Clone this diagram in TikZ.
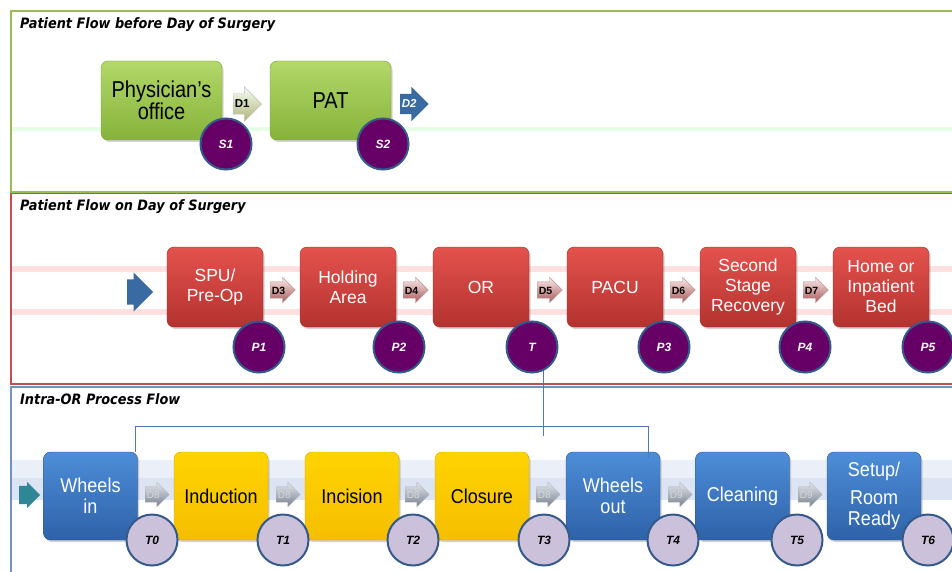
\documentclass[tikz,border=0pt]{standalone}
\usepackage{fontspec}
\setmainfont{Liberation Sans}
\newfontfamily\greenfont[FakeStretch=0.87]{Liberation Sans}
\newfontfamily\procfont[FakeStretch=0.9]{Liberation Sans}
\newfontfamily\headfont[FakeStretch=0.9]{DejaVu Sans}
\usetikzlibrary{shapes.arrows,shadows}

% palette
\definecolor{grnT}{HTML}{B2D869}
\definecolor{grnB}{HTML}{86B23A}
\definecolor{grnD}{HTML}{7CA234}
\definecolor{redT}{HTML}{E4524D}
\definecolor{redB}{HTML}{B3322F}
\definecolor{redD}{HTML}{A02E2B}
\definecolor{bluT}{HTML}{4D8DD8}
\definecolor{bluB}{HTML}{2E62A8}
\definecolor{bluD}{HTML}{2A5590}
\definecolor{yelT}{HTML}{FFD400}
\definecolor{yelB}{HTML}{F5BE00}
\definecolor{yelD}{HTML}{D9A600}
\definecolor{purp}{HTML}{660066}
\definecolor{lav}{HTML}{CCC1DA}
\definecolor{ringB}{HTML}{34598A}
\definecolor{pgreen}{HTML}{9BBB59}
\definecolor{pred}{HTML}{C0504D}
\definecolor{pblue}{HTML}{6E93C4}
\definecolor{flowblue}{HTML}{3A6AA2}
\definecolor{teal}{HTML}{2F8796}
\definecolor{linkblue}{HTML}{4A7AB8}
\definecolor{bandblue}{HTML}{DCE4F4}
\definecolor{greyT}{HTML}{E4E8EE}
\definecolor{greyB}{HTML}{75808E}

\tikzset{
  panel/.style={line width=1.6pt},
  stage/.style={rounded corners=7pt, align=center, inner sep=0pt,
    drop shadow={opacity=0.35, shadow xshift=1.5pt, shadow yshift=-2pt}},
  greenbox/.style={stage, top color=grnT, bottom color=grnB, draw=grnD,
    minimum width=121pt, minimum height=79pt,
    font=\greenfont\fontsize{23}{22}\selectfont},
  redbox/.style={stage, top color=redT, bottom color=redB, draw=redD,
    minimum width=96pt, minimum height=80pt, text=white,
    font=\fontsize{17.5}{20}\selectfont},
  procbox/.style={stage, minimum width=94pt, minimum height=88pt,
    font=\procfont\fontsize{20}{21}\selectfont},
  bluebox/.style={procbox, top color=bluT, bottom color=bluB, draw=bluD, text=white},
  yellowbox/.style={procbox, top color=yelT, bottom color=yelB, draw=yelD, text=black},
  tag/.style={circle, minimum size=51pt, inner sep=0pt, line width=2pt,
    font=\bfseries\itshape\fontsize{12}{12}\selectfont},
  stag/.style={tag, fill=purp, draw=ringB, text=white},
  ttag/.style={tag, fill=lav, draw=ringB, text=black},
  arr/.style={single arrow, anchor=west, inner ysep=0pt, inner xsep=1.5pt,
    font=\bfseries\fontsize{11.5}{11.5}\selectfont},
  arrA/.style={arr, minimum height=27pt, text height=14pt, text depth=6pt,
    single arrow head extend=7pt},
  arrB/.style={arr, minimum height=22pt, text height=12pt, text depth=4pt,
    single arrow head extend=4.5pt, top color=red!8, bottom color=red!30!gray,
    draw=red!20!gray!70, font=\bfseries\fontsize{10.5}{10.5}\selectfont},
  arrC/.style={arr, minimum height=21pt, text height=11pt, text depth=4pt,
    single arrow head extend=4.5pt, top color=greyT, bottom color=greyB,
    draw=gray!60, text=gray!30, font=\fontsize{10}{10}\selectfont},
  link/.style={draw=linkblue, line width=1.1pt},
  heading/.style={anchor=west, inner sep=0pt,
    font=\headfont\bfseries\itshape\fontsize{14.3}{14.3}\selectfont},
}

\begin{document}
\begin{tikzpicture}[x=1pt, y=-1pt]
\useasboundingbox (0,0) rectangle (952,572);
\clip (0,0) rectangle (952,572);
\fill[white] (0,0) rectangle (952,572);

% ---- swimlane frames ----
\draw[panel, draw=pblue] (11,387) rectangle (970,600);
\draw[panel, draw=pred] (11,193) rectangle (970,384);
\draw[panel, draw=pgreen] (11,11) rectangle (970,192);

% ---- faint flow bands ----
\draw[line width=4pt, draw=green!10] (12,129) -- (952,129);
\draw[line width=6pt, draw=red!12] (12,269) -- (952,269);
\draw[line width=6pt, draw=red!12] (12,312) -- (952,312);
\fill[bandblue!60] (12,460) rectangle (952,478);
\fill[bandblue] (12,478) rectangle (952,500);

% ---- headings ----
\node[heading] (h1) at (20,25) {Patient Flow before Day of Surgery};
\node[heading] (h2) at (20,207) {Patient Flow on Day of Surgery};
\node[heading] (h3) at (20,399) {Intra-OR Process Flow};

% ---- before day of surgery ----
\node[greenbox] (phys) at (161.5,100.5) {Physician’s\\office};
\node[greenbox] (pat) at (330.5,100.5) {PAT};
\node[arrA, top color=green!4, bottom color=olive!40!gray!60, draw=gray!50] (d1) at (233,104) {D1};
\node[arrA, fill=flowblue, text=white, font=\bfseries\itshape\fontsize{11.5}{11.5}\selectfont] (d2) at (400,104) {D2};
\node[stag] (s1) at (226,144) {S1};
\node[stag] (s2) at (383,144) {S2};

% ---- day of surgery ----
\node[arr, minimum height=26pt, text height=25pt, text depth=0pt,
  single arrow head extend=7pt, fill=flowblue, inner xsep=0pt] (entry) at (127,292) {};
\node[redbox] (spu) at (215,287) {SPU/\\Pre-Op};
\node[redbox] (hold) at (348,287) {Holding\\Area};
\node[redbox] (or) at (481,287) {OR};
\node[redbox] (pacu) at (615,287) {PACU};
\node[redbox] (ssr) at (748,287) {Second\\Stage\\Recovery};
\node[redbox] (home) at (881,287) {Home or\\Inpatient\\Bed};
\node[arrB] (d3) at (270,290) {D3};
\node[arrB] (d4) at (403,290) {D4};
\node[arrB] (d5) at (537,290) {D5};
\node[arrB] (d6) at (670,290) {D6};
\node[arrB] (d7) at (803,290) {D7};
\node[stag] (p1) at (259,347) {P1};
\node[stag] (p2) at (399,347) {P2};
\node[stag] (tt) at (532,347) {T};
\node[stag] (p3) at (664,347) {P3};
\node[stag] (p4) at (805,347) {P4};
\node[stag] (p5) at (928,347) {P5};

% ---- intra-OR process ----
\node[arr, minimum height=21pt, text height=18pt, text depth=0pt,
  single arrow head extend=4pt, fill=teal, inner xsep=0pt] (start) at (19,495) {};
\node[bluebox] (win) at (90.5,496) {Wheels\\in};
\node[yellowbox] (ind) at (221,496) {Induction};
\node[yellowbox] (inc) at (352,496) {Incision};
\node[yellowbox] (clo) at (482,496) {Closure};
\node[bluebox] (wout) at (613,496) {Wheels\\out};
\node[bluebox] (clean) at (742.5,496) {Cleaning};
\node[bluebox] (setup) at (874,496) {Setup/\\[7pt]Room\\Ready};
\node[arrC] (d8a) at (145,494.5) {D8};
\node[arrC] (d8b) at (276,494.5) {D8};
\node[arrC] (d8c) at (405,494.5) {D8};
\node[arrC] (d8d) at (536,494.5) {D8};
\node[arrC] (d9a) at (668,494.5) {D9};
\node[arrC] (d9b) at (798,494.5) {D9};
\node[ttag] (t0) at (152,540) {T0};
\node[ttag] (t1) at (283,540) {T1};
\node[ttag] (t2) at (413,540) {T2};
\node[ttag] (t3) at (544,540) {T3};
\node[ttag] (t4) at (673,540) {T4};
\node[ttag] (t5) at (797,540) {T5};
\node[ttag] (t6) at (928,540) {T6};

% ---- OR expands into the intra-OR steps ----
\draw[link] (tt.-64) -- ++(0,65);
\draw[link] ([xshift=-2pt]win.north east) -- ++(0,-25)
  -| ([xshift=-12pt,yshift=-6pt]wout.north east);
\end{tikzpicture}
\end{document}
